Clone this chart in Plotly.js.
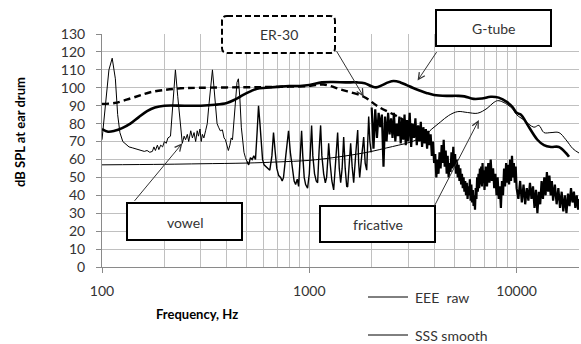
<!DOCTYPE html>
<html>
<head>
<meta charset="utf-8">
<script src="https://cdn.plot.ly/plotly-3.0.1.min.js"></script>
<style>html,body{margin:0;padding:0;background:#fff;}#chart{width:581px;height:344px;}</style>
</head>
<body>
<div id="chart"></div>
<script>
// ---- Data ----
var xTickVals = [100, 1000, 10000];
var xTickText = ['100', '1000', '10000'];
var xMinorVals = [200,300,400,500,600,700,800,900,2000,3000,4000,5000,6000,7000,8000,9000,20000];

// G-tube (thick solid)
var gtubeF = [100,107,115,125,137,150,165,180,200,250,300,350,400,440,480,520,560,620,700,800,900,1000,1150,1300,1500,1700,1850,2000,2100,2250,2400,2550,2750,2950,3150,3400,3700,4000,4600,5200,5600,6200,6800,7500,8200,9000,9600,10000,10500,11200,12600,13550,14650,16000,17300,17900];
var gtubeV = [77,75.5,76,77.5,80,83.5,87,89,90,90,90,90.5,91.5,93.5,96,98,99.5,100,100.5,101,101,101.5,103,103.2,103,103,102.5,100.8,100.2,101.5,103,103.8,103,101.5,100,98.5,97,96,95.5,95.5,95.2,93.8,94,95,94.5,92,89,86,85,80,71,68,67,67,63.6,61.5];

// ER-30 (thick dashed)
var er30F = [100,115,137,155,171,200,240,300,500,700,1000,1170,1420,1830,2150,2760,3570];
var er30V = [91,91.5,94,96,97.5,98.8,99.7,100,100.3,100.5,101,101.8,99,95,89.5,83,75];

// SSS smooth (thin)
var smoothF = [100,200,300,500,700,1000,1300,1600,2000,2350,2700,3080,3570,3900,4300,4700,5200,5800,6480,7200,7700,8100,8600,9080,9600,10000,10850,12120,12810,13550,14650,16010,17300,18700,20000];
var smoothV = [57,57.3,57.6,58,58.6,59.5,61,62.5,64.5,66.4,68,69.7,73,77,81,84.5,86.7,86.2,85.8,88.5,91.5,92.8,92,90.4,88,85,82,78,79,75,75,75,71,66,63.6];

// EEE raw (low-frequency part, harmonic structure)
var rawLoF = [100,104,108,112,116,119,122,126,130,135,140,145,150,155,160,165,170,175,178,181,185,188,192,196,200,204,208,214,220,226,232,239,244,249,253,258,262,268,273,278,283,288,292,297,301,305,310,316,322,327,334,341,347,353,359,365,372,381,388,394,400,407,414,420,426,433,440,448,455,462,470,476,484,492,500,510,520,530,540,550,560,569,578,587,595,605,618,630,645,660,672,685,697,712,727,740,751,770,794,810,830,845,859,875,888,905,918,930,945,960,981,1000,1015,1026,1040,1060,1080,1097,1115,1134,1150,1173,1195,1212,1228,1240,1260,1285,1311,1340,1370,1395,1417,1440,1465,1490,1515,1531,1560,1583,1610,1637,1680,1712,1730,1750,1790,1830,1860,1892,1934,1960,1990];
var rawLoV = [71,90,110,116.5,105,85,75,70,68.5,67,66.5,66,65.5,65,64.5,65,64,64.5,67,65,68,65.5,68,67,70,69,72,73,90,110,95,78,69,73,71,74,70,76,72,75,70,76,73,77,70,74,72,76,80,89,100,110,100,88,80,78,76,76.5,72,71,68,65,68,72,71,80,92,103,105,95,78,71,64,61,59,57,61,60,62,60,75,90,80,70,60,57,56,55,54,62,75,64,55,51,50,48,50,62,76,64,54,48,46,49,45,68,76,62,50,46,44,52,70,79,62,52,48,47,65,79,62,52,47,50,60,69,58,48,43,60,75,55,47,55,72.5,55,45,44.6,58,69,56,47,65,76.4,58,50,62,72.5,58,54,84,70,64];

// EEE raw (high-frequency part, dense noise)
var rawHiF = [2000,2040,2080,2120,2160,2200,2240,2280,2320,2360,2400,2440,2480,2520,2560,2600,2640,2680,2720,2760,2800,2840,2880,2920,2960,3000,3050,3100,3150,3200,3250,3300,3350,3400,3450,3500,3550,3600,3650,3700,3750,3800,3850,3900,3950,4000,4050,4100,4150,4200,4250,4300,4350,4400,4450,4500,4550,4600,4650,4700,4750,4800,4850,4900,4950,5000,5050,5100,5150,5200,5250,5300,5350,5400,5450,5500,5550,5600,5650,5700,5750,5800,5850,5900,5950,6000,6050,6100,6150,6200,6250,6300,6350,6400,6450,6500,6550,6600,6650,6700,6750,6800,6850,6900,6950,7000,7100,7200,7300,7400,7500,7600,7700,7800,7900,8000,8100,8200,8300,8400,8500,8600,8700,8800,8900,9000,9100,9200,9300,9400,9500,9600,9700,9800,9900,10000,10200,10400,10600,10800,11000,11200,11400,11600,11800,12000,12200,12400,12600,12800,13000,13200,13400,13600,13800,14000,14200,14400,14600,14800,15000,15300,15600,15900,16200,16500,16800,17100,17400,17700,18000,18300,18600,18900,19200,19500,19800,20000];
var rawHiV = [89,66,88,72,86,78,85,56,84,70,86,74,83,72,86,70,80,73,84,69,82,71,85,68,82,70,86,67,80,72,83,68,79,70,81,67,78,69,77,66,76,68,74,62,70,58,63,50,60,52,64,55,68,58,71,56,65,52,62,50,58,53,64,55,67,56,63,52,60,50,57,48,55,46,52,44,50,42,48,40,47,38,45,40,49,37,46,36,43,34,40,32,44,38,50,42,52,44,55,46,56,45,58,47,54,43,56,45,58,47,60,48,55,44,52,40,50,38,45,33,48,40,55,45,58,47,57,46,60,48,62,50,58,47,56,44,38,48,36,46,35,44,37,47,38,45,33,43,30,42,35,48,38,50,40,53,42,51,40,48,37,46,35,44,33,42,31,40,30,41,34,44,36,42,33,40,32,38];

// ---- Text ----
var yTitle = 'dB SPL at ear drum';
var xTitle = 'Frequency, Hz';
var legendLabels = ['EEE  raw', 'SSS smooth'];
var boxLabels = ['ER-30', 'G-tube', 'vowel', 'fricative'];

var FONT = 'Lato, "Open Sans", sans-serif';
var TXT = '#333333';
var GRID = '#c0c0c0';
var AX = '#8a8a8a';

// plot area in pixels: left 102, right 579, top 34, bottom 267
function px(x) { return (x - 102) / 477; }
function py(y) { return (267 - y) / 233; }

// split the low raw part where the harmonics get dense (line looks heavier there)
var splitIdx = rawLoF.indexOf(500);

var traces = [
  {x: rawLoF.slice(0, splitIdx + 1), y: rawLoV.slice(0, splitIdx + 1), type: 'scatter', mode: 'lines', line: {color: '#000', width: 1}, name: 'EEE raw'},
  {x: rawLoF.slice(splitIdx), y: rawLoV.slice(splitIdx), type: 'scatter', mode: 'lines', line: {color: '#000', width: 1.4}, name: 'EEE raw mid'},
  {x: rawHiF, y: rawHiV, type: 'scatter', mode: 'lines', line: {color: '#000', width: 2.2}, name: 'EEE raw hi'},
  {x: smoothF, y: smoothV, type: 'scatter', mode: 'lines', line: {color: '#000', width: 1, shape: 'spline'}, name: 'SSS smooth'},
  {x: gtubeF, y: gtubeV, type: 'scatter', mode: 'lines', line: {color: '#000', width: 2.6, shape: 'spline'}, name: 'G-tube'},
  {x: er30F, y: er30V, type: 'scatter', mode: 'lines', line: {color: '#000', width: 2.4, dash: '7px,4px', shape: 'spline'}, name: 'ER-30'}
];

function box(x0, y0, x1, y1) {
  return {type: 'rect', xref: 'paper', yref: 'paper', x0: px(x0), x1: px(x1), y0: py(y1), y1: py(y0),
    line: {color: '#000', width: 2}, fillcolor: '#fff', layer: 'above'};
}
function roundBox(x0, y0, x1, y1, r, dash) {
  var X = function (v) { return px(v).toFixed(5); };
  var Y = function (v) { return py(v).toFixed(5); };
  var d = 'M' + X(x0 + r) + ',' + Y(y0) + ' L' + X(x1 - r) + ',' + Y(y0) +
    ' Q' + X(x1) + ',' + Y(y0) + ' ' + X(x1) + ',' + Y(y0 + r) +
    ' L' + X(x1) + ',' + Y(y1 - r) + ' Q' + X(x1) + ',' + Y(y1) + ' ' + X(x1 - r) + ',' + Y(y1) +
    ' L' + X(x0 + r) + ',' + Y(y1) + ' Q' + X(x0) + ',' + Y(y1) + ' ' + X(x0) + ',' + Y(y1 - r) +
    ' L' + X(x0) + ',' + Y(y0 + r) + ' Q' + X(x0) + ',' + Y(y0) + ' ' + X(x0 + r) + ',' + Y(y0) + ' Z';
  return {type: 'path', xref: 'paper', yref: 'paper', path: d,
    line: {color: '#000', width: 2, dash: dash}, fillcolor: '#fff', layer: 'above'};
}
function lgLine(x0, x1, y) {
  return {type: 'line', xref: 'paper', yref: 'paper', x0: px(x0), x1: px(x1), y0: py(y), y1: py(y),
    line: {color: '#000', width: 1}};
}
function label(text, x, y, opts) {
  var a = {text: text, xref: 'paper', yref: 'paper', x: px(x), y: py(y), showarrow: false,
    font: {family: FONT, size: 14, color: TXT}, xanchor: 'center', yanchor: 'middle'};
  for (var k in opts) a[k] = opts[k];
  return a;
}
function arrow(f, v, ax, ay) {
  return {text: '', x: Math.log10(f), y: v, xref: 'x', yref: 'y', showarrow: true, ax: ax, ay: ay,
    arrowhead: 5, arrowsize: 1.3, arrowwidth: 1, arrowcolor: '#333', standoff: 0};
}

var layout = {
  width: 581, height: 344,
  margin: {l: 102, r: 2, t: 34, b: 77, pad: 0},
  paper_bgcolor: '#fff', plot_bgcolor: '#fff',
  showlegend: false,
  font: {family: FONT, color: TXT, size: 14},
  xaxis: {
    type: 'log', range: [2, Math.log10(20000)],
    tickmode: 'array', tickvals: xTickVals, ticktext: xTickText,
    ticks: 'outside', ticklen: 5, tickcolor: AX, tickwidth: 1,
    ticklabelstandoff: 6,
    showline: true, linecolor: AX, linewidth: 1,
    showgrid: true, gridcolor: GRID, gridwidth: 1, zeroline: false,
    minor: {tickmode: 'array', tickvals: xMinorVals, showgrid: true, gridcolor: GRID, gridwidth: 1, ticks: ''},
    tickfont: {family: FONT, size: 14, color: TXT}
  },
  yaxis: {
    range: [0, 130], dtick: 10, tick0: 0,
    ticks: 'outside', ticklen: 5, tickcolor: AX, tickwidth: 1,
    ticklabelstandoff: 8,
    showline: true, linecolor: AX, linewidth: 1,
    showgrid: true, gridcolor: GRID, gridwidth: 1, zeroline: false,
    tickfont: {family: FONT, size: 14, color: TXT}
  },
  shapes: [
    roundBox(222, 16, 335, 53, 5, '6px,3px'),
    box(436, 10, 551, 46),
    box(127, 203, 242, 240),
    box(320, 206, 435, 242),
    lgLine(368, 408, 297),
    lgLine(368, 408, 335)
  ],
  annotations: [
    arrow(244, 69, -49, 59),
    arrow(1830, 95, -28, -47),
    arrow(3330, 104, 20, -30),
    arrow(6577, 82, -45, 87),
    label(boxLabels[0], 278.5, 35),
    label(boxLabels[1], 493.5, 28.5),
    label(boxLabels[2], 184.5, 222),
    label(boxLabels[3], 377.5, 224.5),
    label(legendLabels[0], 413, 297, {xanchor: 'left'}),
    label(legendLabels[1], 413, 335, {xanchor: 'left'}),
    label(xTitle, 197, 314, {font: {family: FONT, size: 13, color: '#000', weight: 'bold'}}),
    label(yTitle, 20, 132, {textangle: -90, font: {family: FONT, size: 13, color: '#000', weight: 'bold'}})
  ]
};

Plotly.newPlot('chart', traces, layout, {displayModeBar: false, staticPlot: true});
</script>
</body>
</html>
